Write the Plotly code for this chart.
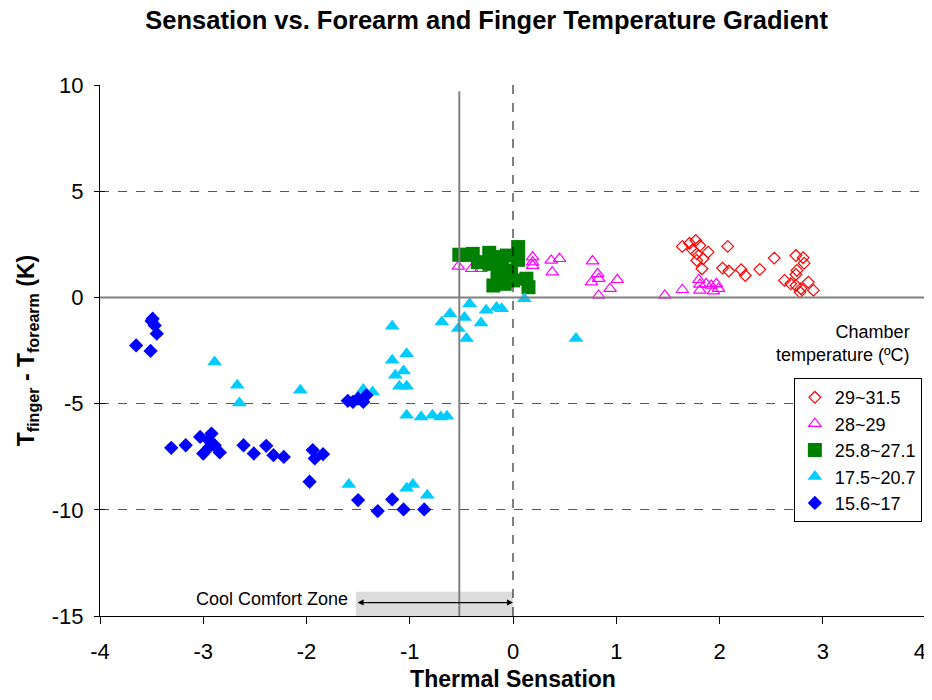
import plotly.graph_objects as go

# ---- data ----
red_x = [1.64, 1.71, 1.77, 1.74, 1.81, 1.78, 1.89, 1.84, 1.78, 1.83, 2.08, 2.03, 2.09, 2.21, 2.25,
         2.39, 2.53, 2.74, 2.81, 2.82, 2.75, 2.74, 2.63, 2.69, 2.74, 2.79, 2.86, 2.91, 2.78]
red_y = [2.40, 2.55, 2.68, 2.24, 2.44, 2.05, 2.13, 1.82, 1.74, 1.35, 2.40, 1.38, 1.24, 1.30, 1.03,
         1.32, 1.85, 1.97, 1.87, 1.61, 1.27, 1.08, 0.80, 0.64, 0.56, 0.41, 0.72, 0.33, 0.25]

mag_x = [-0.53, -0.40, -0.31, 0.19, 0.19, 0.19, 0.37, 0.45, 0.38, 0.77, 0.82, 0.83, 0.76, 1.01,
         0.94, 0.83, 1.47, 1.64, 1.80, 1.81, 1.81, 1.87, 1.92, 1.97, 1.94, 1.99]
mag_y = [1.46, 1.35, 1.35, 1.90, 1.66, 1.50, 1.74, 1.82, 1.19, 1.71, 1.11, 0.88, 0.72, 0.83,
         0.41, 0.09, 0.09, 0.36, 0.83, 0.61, 0.33, 0.64, 0.56, 0.64, 0.30, 0.41]

grn_x = [-0.52, -0.39, -0.34, -0.23, -0.13, -0.06, 0.05, 0.05, -0.02, -0.11, -0.19, -0.08, 0.00,
         0.13, 0.15, -0.15, -0.03, -0.23, -0.45]
grn_y = [2.01, 2.05, 1.66, 2.10, 1.90, 1.97, 2.37, 1.77, 1.27, 1.42, 0.56, 0.64, 0.80,
         0.88, 0.48, 1.03, 1.03, 1.58, 2.00]

cyan_x = [-2.89, -2.67, -2.65, -2.06, -1.59, -1.45, -1.36, -1.17, -1.17, -1.03, -1.14, -1.06, -1.10,
          -1.03, -1.03, -0.89, -0.78, -0.70, -0.64, -1.03, -0.97, -0.83, -0.69, -0.61, -0.53, -0.47,
          -0.45, -0.42, -0.31, -0.26, -0.16, -0.11, 0.11, 0.61]
cyan_y = [-3.04, -4.14, -4.97, -4.37, -8.81, -4.34, -4.45, -1.36, -2.96, -2.65, -3.67, -3.46, -4.18,
          -4.18, -5.55, -5.63, -5.55, -5.63, -5.60, -8.99, -8.81, -9.31, -1.16, -0.77, -1.47, -0.95,
          -1.94, -0.30, -1.21, -0.61, -0.48, -0.53, -0.06, -1.94]

blue_x = [-3.50, -3.47, -3.45, -3.49, -3.65, -3.51, -3.31, -3.17, -3.03, -2.92, -3.00, -2.94, -2.89,
          -2.84, -2.95, -2.61, -2.51, -2.39, -2.32, -2.22, -1.94, -1.92, -1.84, -1.97, -1.60, -1.55,
          -1.45, -1.42, -1.50, -1.50, -1.31, -1.17, -1.06, -0.86]
blue_y = [-1.11, -1.32, -1.71, -1.00, -2.26, -2.52, -7.08, -6.96, -6.57, -6.41, -7.35, -7.04, -6.96,
          -7.30, -6.72, -6.96, -7.35, -6.99, -7.43, -7.51, -7.19, -7.58, -7.38, -8.68, -4.87, -4.92,
          -4.92, -4.61, -4.76, -9.54, -10.06, -9.51, -9.98, -9.98]

x_ticks = [-4, -3, -2, -1, 0, 1, 2, 3, 4]
x_tick_labels = ["-4", "-3", "-2", "-1", "0", "1", "2", "3", "4&nbsp;&nbsp;"]
y_ticks = [-15, -10, -5, 0, 5, 10]

FONT = "Liberation Sans, Arial, sans-serif"

fig = go.Figure()

fig.add_trace(go.Scatter(x=mag_x, y=mag_y, mode="markers", name="28~29", legendrank=2,
                         legendgroup="g2",
                         marker=dict(symbol="triangle-up-open", size=11, color="#FF00FF",
                                     line=dict(width=1.2, color="#FF00FF"))))
fig.add_trace(go.Scatter(x=grn_x, y=grn_y, mode="markers", name="25.8~27.1", legendrank=3,
                         legendgroup="g3",
                         marker=dict(symbol="square", size=14, color="#008000",
                                     line=dict(width=0))))
fig.add_trace(go.Scatter(x=cyan_x, y=cyan_y, mode="markers", name="17.5~20.7", legendrank=4,
                         legendgroup="g4",
                         marker=dict(symbol="triangle-up", size=13, color="#00CCFF",
                                     line=dict(width=0))))
fig.add_trace(go.Scatter(x=blue_x, y=blue_y, mode="markers", name="15.6~17", legendrank=5,
                         legendgroup="g5",
                         marker=dict(symbol="diamond", size=11, color="#0000FF",
                                     line=dict(width=0))))
fig.add_trace(go.Scatter(x=red_x, y=red_y, mode="markers", name="29~31.5", legendrank=1,
                         legendgroup="g1",
                         marker=dict(symbol="diamond-open", size=9, color="#FF0000",
                                     line=dict(width=1.2, color="#FF0000"))))
# helper trace so the overlaying axis (inner tick marks) is drawn
fig.add_trace(go.Scatter(x=[-4], y=[-15], yaxis="y2", mode="markers", showlegend=False,
                         hoverinfo="skip", marker=dict(size=1, opacity=0)))

shapes = [
    dict(type="rect", xref="x", yref="y", x0=-1.52, x1=0, y0=-15, y1=-13.86,
         fillcolor="#DCDCDC", line=dict(width=0), layer="below"),
    dict(type="line", xref="x", yref="y", x0=-4, x1=4, y0=0, y1=0,
         line=dict(color="#808080", width=2)),
    dict(type="line", xref="x", yref="y", x0=-0.52, x1=-0.52, y0=9.7, y1=-15,
         line=dict(color="#808080", width=2)),
    dict(type="line", xref="x", yref="y", x0=0, x1=0, y0=10, y1=-15,
         line=dict(color="#000000", width=1, dash="dash")),
    dict(type="line", xref="x", yref="y", x0=4, x1=4, y0=10, y1=-15,
         line=dict(color="#808080", width=1.5)),
]

annotations = [
    dict(x=0, y=-14.37, ax=-1.52, ay=-14.37, xref="x", yref="y", axref="x", ayref="y",
         text="", showarrow=True, arrowhead=2, startarrowhead=2, arrowside="end+start",
         arrowwidth=1.2, arrowsize=1, arrowcolor="#000000"),
    dict(x=-1.58, y=-14.2, xref="x", yref="y", text="Cool Comfort Zone", showarrow=False,
         xanchor="right", yanchor="middle", font=dict(size=18, color="#000000", family=FONT)),
    dict(x=0.983, y=0.514, xref="paper", yref="paper", text="Chamber<br>temperature (ºC)",
         showarrow=False, xanchor="right", yanchor="middle", align="right",
         font=dict(size=18, color="#000000", family=FONT)),
]

fig.update_layout(
    width=924, height=684,
    paper_bgcolor="white", plot_bgcolor="white",
    margin=dict(l=92, r=6, t=77, b=76, autoexpand=False),
    font=dict(family=FONT, color="#000000"),
    title=dict(text="<b>Sensation vs. Forearm and Finger Temperature Gradient</b>",
               x=0.518, xref="container", xanchor="center", y=0.983, yanchor="middle",
               font=dict(size=25.5, family=FONT, color="#000000")),
    xaxis=dict(range=[-4, 4], tickvals=x_ticks, ticktext=x_tick_labels,
               automargin=False, ticklabeloverflow="allow",
               showgrid=False, zeroline=False, showline=True, linecolor="#000000", linewidth=1,
               ticks="outside", ticklen=7, tickcolor="#000000", ticklabelstandoff=9,
               tickfont=dict(size=22, family=FONT),
               title=dict(text="<b>Thermal Sensation</b>", font=dict(size=23, family=FONT),
                          standoff=16)),
    yaxis=dict(range=[-15, 10], tickvals=y_ticks, ticktext=[str(v) for v in y_ticks],
               automargin=False,
               showgrid=True, gridcolor="#555555", griddash="dash", gridwidth=1,
               zeroline=False, showline=True, linecolor="#000000", linewidth=1,
               ticks="outside", ticklen=5, tickcolor="#000000", ticklabelstandoff=6,
               tickfont=dict(size=22, family=FONT),
               title=dict(text="<b>T<sub>finger</sub> - T<sub>forearm</sub> (K)</b>",
                          font=dict(size=23, family=FONT), standoff=10)),
    yaxis2=dict(range=[-15, 10], tickvals=y_ticks, overlaying="y", side="left",
                automargin=False,
                showgrid=False, zeroline=False, showline=False, showticklabels=False,
                ticks="inside", ticklen=5, tickcolor="#000000"),
    legend=dict(x=0.995, y=0.448, xanchor="right", yanchor="top",
                bgcolor="white", bordercolor="#000000", borderwidth=1,
                font=dict(size=18, family=FONT, color="#000000"),
                itemwidth=30, tracegroupgap=0, traceorder="grouped"),
    shapes=shapes,
    annotations=annotations,
    showlegend=True,
)

fig.write_html("out.html")
